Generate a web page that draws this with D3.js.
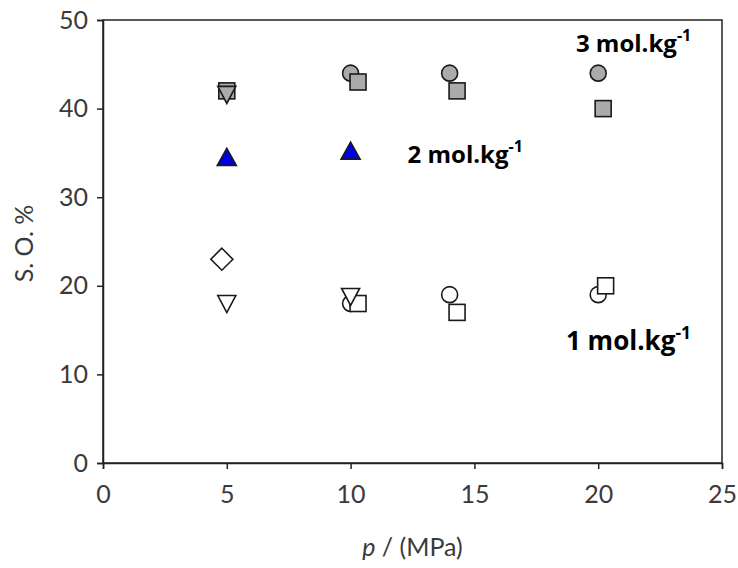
<!DOCTYPE html>
<html><head><meta charset="utf-8">
<script src="https://cdn.jsdelivr.net/npm/d3@7"></script>
<style>body{margin:0;background:#fff}svg{display:block}</style>
</head><body>
<svg id="chart" width="738" height="568"></svg>
<script>
// ---- data ----
const xTicks = [0, 5, 10, 15, 20, 25];
const yTicks = [0, 10, 20, 30, 40, 50];

// 3 mol.kg-1 (gray filled)
const c3Circle = [[10, 44], [14, 44], [20, 44]];
const c3Square = [[5, 42], [10.3, 43], [14.3, 42], [20.2, 40]];
const c3TriDown = [[5, 41.6]];
// 2 mol.kg-1 (blue triangles)
const c2TriUp = [[5, 34.5], [10, 35.2]];
// 1 mol.kg-1 (open)
const c1Circle = [[10, 18], [14, 19], [20, 19]];
const c1Square = [[10.3, 18], [14.3, 17], [20.3, 20]];
const c1TriDown = [[5, 18], [10, 18.8]];
const c1Diamond = [[4.8, 23]];

const labels = [
  {p: 19.1, so: 46.4, n: "3", fs: 24},
  {p: 12.3, so: 33.9, n: "2", fs: 24},
  {p: 18.7, so: 12.7, n: "1", fs: 26}
];

// ---- layout ----
const svg = d3.select("#chart");
const x = d3.scaleLinear().domain([0, 25]).range([103, 722]);
const y = d3.scaleLinear().domain([0, 50]).range([463, 20]);
const textCol = "#3a3a3a";
const font = "Lato, 'Open Sans', sans-serif";

// frame
svg.append("rect").attr("x", x(0)).attr("y", y(50))
  .attr("width", x(25) - x(0)).attr("height", y(0) - y(50))
  .attr("fill", "none").attr("stroke", "#222").attr("stroke-width", 1.5);

// axes
const yAxis = d3.axisLeft(y).tickValues(yTicks).tickSize(6).tickPadding(9);
const gy = svg.append("g").attr("transform", `translate(${x(0)},0)`).call(yAxis);
const xAxis = d3.axisBottom(x).tickValues(xTicks).tickSize(6).tickPadding(16);
const gx = svg.append("g").attr("transform", `translate(0,${y(0)})`).call(xAxis);
[gx, gy].forEach(g => {
  g.select(".domain").attr("stroke", "#222").attr("stroke-width", 1.5);
  g.selectAll(".tick line").attr("stroke", "#222").attr("stroke-width", 1.5);
  g.selectAll(".tick text").attr("fill", textCol).attr("font-family", font)
    .attr("font-size", 25);
});

// axis titles
svg.append("text").attr("transform", `translate(33,${(y(0) + y(50)) / 2 + 2}) rotate(-90)`)
  .attr("text-anchor", "middle").attr("fill", textCol).attr("font-family", font)
  .attr("font-size", 25).text("S. O. %");
const xt = svg.append("text").attr("x", (x(0) + x(25)) / 2).attr("y", 556)
  .attr("text-anchor", "middle").attr("fill", textCol).attr("font-family", font)
  .attr("font-size", 25);
xt.append("tspan").attr("font-style", "italic").text("p");
xt.append("tspan").text(" / (MPa)");

// ---- markers ----
const gray = "#ababab", blue = "#0000e6", stroke = "#1a1a1a";
function drawCircles(data, fill) {
  svg.append("g").selectAll("circle").data(data).join("circle")
    .attr("cx", d => x(d[0])).attr("cy", d => y(d[1])).attr("r", 8)
    .attr("fill", fill).attr("stroke", stroke).attr("stroke-width", 1.6);
}
function drawSquares(data, fill) {
  svg.append("g").selectAll("rect").data(data).join("rect")
    .attr("x", d => x(d[0]) - 8).attr("y", d => y(d[1]) - 8)
    .attr("width", 16).attr("height", 16)
    .attr("fill", fill).attr("stroke", stroke).attr("stroke-width", 1.6);
}
function drawPath(data, fill, pathFn) {
  svg.append("g").selectAll("path").data(data).join("path")
    .attr("d", d => pathFn(x(d[0]), y(d[1])))
    .attr("fill", fill).attr("stroke", stroke).attr("stroke-width", 1.6)
    .attr("stroke-linejoin", "miter");
}
const triDown = (cx, cy) => `M${cx - 9},${cy - 8}L${cx + 9},${cy - 8}L${cx},${cy + 9}Z`;
const triUp = (cx, cy) => `M${cx - 9.5},${cy + 8}L${cx + 9.5},${cy + 8}L${cx},${cy - 9}Z`;
const diamond = (cx, cy) => `M${cx},${cy - 11}L${cx + 11},${cy}L${cx},${cy + 11}L${cx - 11},${cy}Z`;

drawCircles(c3Circle, gray);
drawSquares(c3Square, gray);
drawPath(c3TriDown, gray, triDown);
drawPath(c2TriUp, blue, triUp);
drawCircles(c1Circle, "#fff");
drawSquares(c1Square, "#fff");
drawPath(c1TriDown, "#fff", triDown);
drawPath(c1Diamond, "#fff", diamond);

// ---- series labels ----
labels.forEach(l => {
  const t = svg.append("text").attr("x", x(l.p)).attr("y", y(l.so))
    .attr("font-family", "'Open Sans', Lato, sans-serif").attr("font-weight", "bold")
    .attr("font-size", l.fs).attr("fill", "#000");
  t.append("tspan").text(l.n + " mol.kg");
  t.append("tspan").attr("dy", -l.fs * 0.46).attr("font-size", l.fs * 0.67).text("-1");
});
</script>
</body></html>
